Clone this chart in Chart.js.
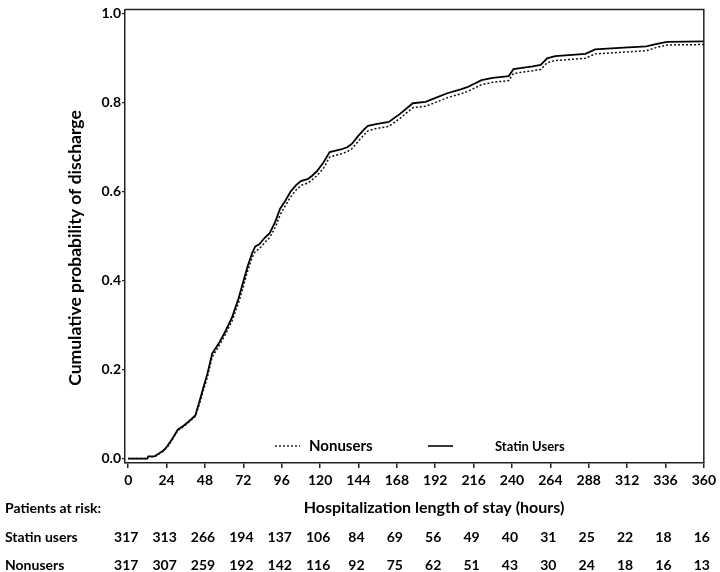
<!DOCTYPE html>
<html>
<head>
<meta charset="utf-8">
<script src="https://cdn.jsdelivr.net/npm/chart.js@4.4.1/dist/chart.umd.min.js"></script>
<style>
    html, body { margin: 0; padding: 0; background: #fff; }
    canvas { display: block; }
</style>
</head>
<body>
<canvas id="kmChart" width="720" height="572"></canvas>
<script>
// Curve readings (hours, cumulative probability of discharge)
const hours = [0, 12, 12.5, 16.5, 19.5, 22, 24.5, 28, 31, 35, 38, 42, 44.5, 47, 49.5, 52.5, 56.5, 60.5, 65, 69,
    71.5, 74.5, 77.5, 79.5, 82, 85.5, 88.5, 92, 95, 98, 101.5, 105, 108, 112.5, 115, 118, 122, 126, 133, 137,
    140, 144, 148, 150, 155, 163, 170, 178, 186, 193, 200, 208, 212, 221, 228, 238, 241, 253, 258, 262,
    267, 286, 292, 310, 324, 330, 337, 360];
const statinUsers = [0, 0, 0.005, 0.005, 0.012, 0.018, 0.028, 0.047, 0.065, 0.075, 0.084, 0.097, 0.128, 0.16, 0.19, 0.236, 0.258, 0.284, 0.318, 0.36,
    0.392, 0.43, 0.462, 0.477, 0.482, 0.497, 0.507, 0.533, 0.562, 0.578, 0.6, 0.615, 0.624, 0.629, 0.636, 0.646, 0.665, 0.689, 0.695, 0.7,
    0.708, 0.726, 0.742, 0.748, 0.752, 0.757, 0.775, 0.799, 0.802, 0.812, 0.822, 0.83, 0.835, 0.851, 0.856, 0.86, 0.876, 0.882, 0.885, 0.9,
    0.905, 0.91, 0.92, 0.924, 0.927, 0.932, 0.937, 0.938];
const nonusers = [0, 0, 0.004, 0.004, 0.011, 0.017, 0.026, 0.045, 0.063, 0.073, 0.082, 0.095, 0.122, 0.153, 0.183, 0.228, 0.252, 0.277, 0.31, 0.35,
    0.38, 0.42, 0.452, 0.466, 0.472, 0.486, 0.497, 0.52, 0.548, 0.567, 0.588, 0.604, 0.614, 0.62, 0.627, 0.636, 0.652, 0.678, 0.685, 0.69,
    0.697, 0.714, 0.73, 0.737, 0.742, 0.747, 0.765, 0.789, 0.792, 0.802, 0.812, 0.82, 0.825, 0.841, 0.846, 0.85, 0.866, 0.872, 0.875, 0.89,
    0.895, 0.9, 0.91, 0.914, 0.917, 0.924, 0.93, 0.931];

// Axis ticks
const xTicks = [0, 24, 48, 72, 96, 120, 144, 168, 192, 216, 240, 264, 288, 312, 336, 360];
const yTicks = [0, 0.2, 0.4, 0.6, 0.8, 1.0];

// Patients at risk table
const statinAtRisk = [317, 313, 266, 194, 137, 106, 84, 69, 56, 49, 40, 31, 25, 22, 18, 16];
const nonusersAtRisk = [317, 307, 259, 192, 142, 116, 92, 75, 62, 51, 43, 30, 24, 18, 16, 13];

const FONT = "Lato, 'Open Sans', sans-serif";
const toPoints = (xs, ys) => xs.map((x, i) => ({ x: x, y: ys[i] }));

// Draws frame, titles, legend and the at-risk table
const extrasPlugin = {
    id: "kmExtras",
    afterDraw(chart) {
        const { ctx, chartArea: a, scales } = chart;
        const xs = scales.x;
        ctx.save();

        // top + right frame
        ctx.strokeStyle = "#222";
        ctx.lineWidth = 1.5;
        ctx.beginPath();
        ctx.moveTo(a.left, a.top);
        ctx.lineTo(a.right, a.top);
        ctx.lineTo(a.right, a.bottom);
        ctx.stroke();

        ctx.fillStyle = "#000";
        ctx.textBaseline = "middle";

        // y title
        ctx.save();
        ctx.translate(75, 248);
        ctx.rotate(-Math.PI / 2);
        ctx.textAlign = "center";
        ctx.font = "bold 17.5px " + FONT;
        ctx.fillText("Cumulative probability of discharge", 0, 0);
        ctx.restore();

        // x title
        ctx.textAlign = "center";
        ctx.font = "bold 16px " + FONT;
        ctx.fillText("Hospitalization length of stay (hours)", 434, 508);

        // risk table
        ctx.textAlign = "left";
        ctx.font = "bold 14px " + FONT;
        ctx.fillText("Patients at risk:", 5, 508);
        ctx.fillText("Statin users", 5, 537);
        ctx.fillText("Nonusers", 5, 565);
        ctx.textAlign = "center";
        xTicks.forEach((t, i) => {
            const px = xs.getPixelForValue(t) - 2;
            ctx.fillText(String(statinAtRisk[i]), px, 537);
            ctx.fillText(String(nonusersAtRisk[i]), px, 565);
        });

        // legend
        ctx.lineWidth = 1.5;
        ctx.setLineDash([2, 2]);
        ctx.beginPath();
        ctx.moveTo(275, 446);
        ctx.lineTo(300, 446);
        ctx.stroke();
        ctx.setLineDash([]);
        ctx.lineWidth = 1.8;
        ctx.beginPath();
        ctx.moveTo(428, 446);
        ctx.lineTo(453, 446);
        ctx.stroke();
        ctx.textAlign = "left";
        ctx.font = "bold 15px " + FONT;
        ctx.fillText("Nonusers", 309, 446);
        ctx.font = "bold 13px " + FONT;
        ctx.fillText("Statin Users", 495, 447);

        ctx.restore();
    }
};

const ctx = document.getElementById("kmChart").getContext("2d");
new Chart(ctx, {
    type: "line",
    data: {
        datasets: [
            {
                label: "Nonusers",
                data: toPoints(hours, nonusers),
                borderColor: "#111",
                borderWidth: 1.5,
                borderDash: [2, 2],
                pointRadius: 0,
                tension: 0,
                fill: false
            },
            {
                label: "Statin Users",
                data: toPoints(hours, statinUsers),
                borderColor: "#000",
                borderWidth: 1.8,
                pointRadius: 0,
                tension: 0,
                fill: false
            }
        ]
    },
    options: {
        responsive: false,
        animation: false,
        layout: { padding: { left: 0, right: 12, top: 5, bottom: 0 } },
        plugins: { legend: { display: false }, tooltip: { enabled: false } },
        scales: {
            x: {
                type: "linear",
                min: -2,
                max: 360,
                afterBuildTicks: (s) => { s.ticks = xTicks.map(v => ({ value: v })); },
                afterFit: (s) => { s.height = 109; },
                ticks: { color: "#000", font: { family: FONT, size: 14, weight: "bold" }, padding: 4, maxRotation: 0, autoSkip: false },
                grid: { drawOnChartArea: false, drawTicks: true, tickLength: 5, color: "#222", lineWidth: 1.5 },
                border: { display: true, color: "#222", width: 1.5 }
            },
            y: {
                type: "linear",
                min: -0.01,
                max: 1.01,
                afterBuildTicks: (s) => { s.ticks = yTicks.map(v => ({ value: v })); },
                afterFit: (s) => { s.width = 125; },
                ticks: { color: "#000", font: { family: FONT, size: 14, weight: "bold" }, padding: 1,
                    callback: (v) => Number(v).toFixed(1) },
                grid: { drawOnChartArea: false, drawTicks: true, tickLength: 3, color: "#222", lineWidth: 1.2 },
                border: { display: true, color: "#222", width: 1.5 }
            }
        }
    },
    plugins: [extrasPlugin]
});
</script>
</body>
</html>
